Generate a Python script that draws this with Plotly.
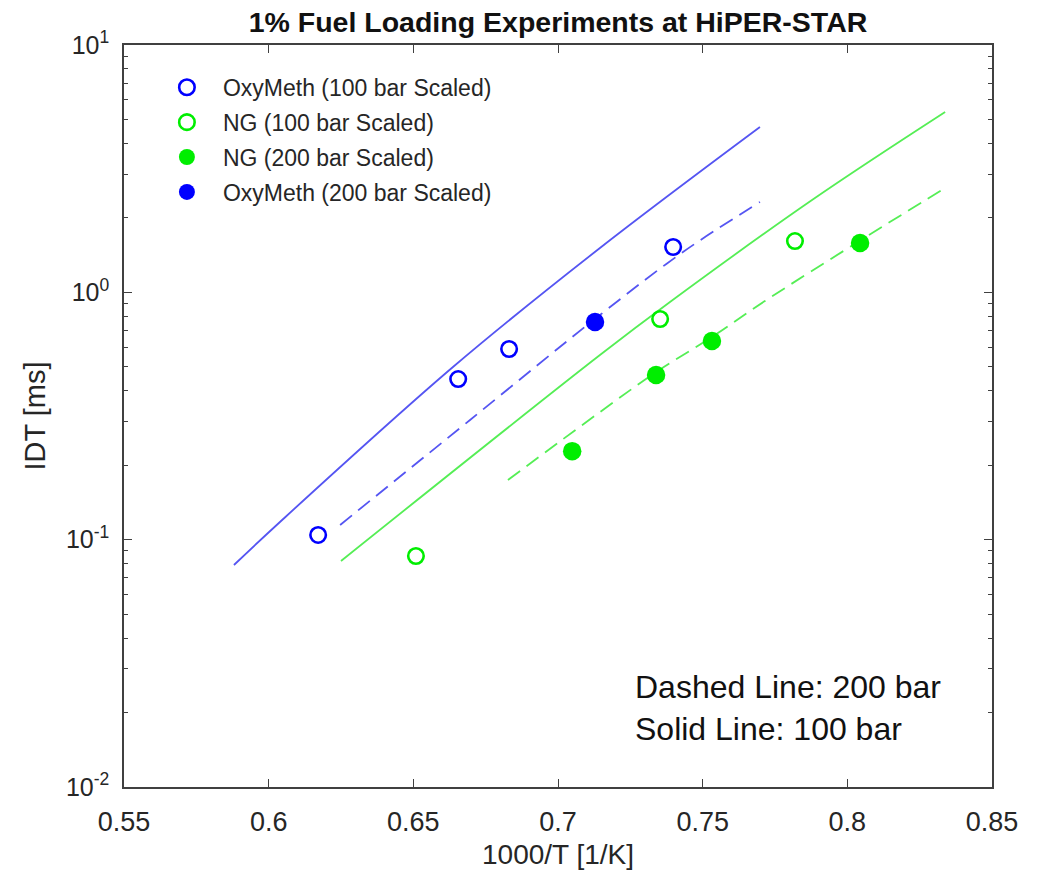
import plotly.graph_objects as go

# ---------------- data ----------------
# experiments
oxy100_x = [0.6171, 0.6655, 0.6831, 0.7398]
oxy100_y = [0.1045, 0.446, 0.590, 1.525]
ng100_x = [0.6509, 0.7353, 0.7819]
ng100_y = [0.0859, 0.780, 1.612]
ng200_x = [0.7049, 0.7339, 0.7532, 0.8044]
ng200_y = [0.228, 0.463, 0.636, 1.582]
oxy200_x = [0.7128]
oxy200_y = [0.759]

# model curves
oxy_solid_x = [0.5880, 0.6039, 0.6637, 0.7145, 0.7698]
oxy_solid_y = [0.0790, 0.1179, 0.499, 1.511, 4.66]
oxy_dash_x = [0.6247, 0.6696, 0.7145, 0.7432, 0.7698]
oxy_dash_y = [0.1147, 0.3047, 0.810, 1.456, 2.319]
ng_solid_x = [0.6250, 0.7145, 0.7387, 0.7878, 0.8338]
ng_solid_y = [0.0820, 0.558, 0.914, 2.362, 5.36]
ng_dash_x = [0.6827, 0.7145, 0.7339, 0.7532, 0.7715, 0.8047, 0.8338]
ng_dash_y = [0.1743, 0.328, 0.476, 0.660, 0.922, 1.627, 2.642]

x_tickvals = [0.55, 0.6, 0.65, 0.7, 0.75, 0.8, 0.85]
x_ticktext = ["0.55", "0.6", "0.65", "0.7", "0.75", "0.8", "0.85"]
y_tickvals = [0.01, 0.1, 1, 10]
y_ticktext = ["10<sup>-2</sup>", "10<sup>-1</sup>", "10<sup>0</sup>", "10<sup>1</sup>"]
y_minor = [m * d for d in (0.01, 0.1, 1) for m in range(2, 10)]

FONT = "Liberation Sans, Arial, Helvetica, sans-serif"
TXT = "#262626"
BLUE_M = "#0000ff"
GREEN_M = "#00ee00"
BLUE_L = "#5555f2"
GREEN_L = "#55ee55"

fig = go.Figure()

# lines (no legend)
fig.add_trace(go.Scatter(x=oxy_solid_x, y=oxy_solid_y, mode="lines", line=dict(color=BLUE_L, width=1.8, shape="spline"), showlegend=False))
fig.add_trace(go.Scatter(x=oxy_dash_x, y=oxy_dash_y, mode="lines", line=dict(color=BLUE_L, width=1.8, dash="15px,8px", shape="spline"), showlegend=False))
fig.add_trace(go.Scatter(x=ng_solid_x, y=ng_solid_y, mode="lines", line=dict(color=GREEN_L, width=1.8, shape="spline"), showlegend=False))
fig.add_trace(go.Scatter(x=ng_dash_x, y=ng_dash_y, mode="lines", line=dict(color=GREEN_L, width=1.8, dash="15px,8px", shape="spline"), showlegend=False))

# markers
fig.add_trace(go.Scatter(x=oxy100_x, y=oxy100_y, mode="markers", name="OxyMeth (100 bar Scaled)", legendgroup="a",
                         marker=dict(symbol="circle-open", size=15.5, color=BLUE_M, line=dict(width=2.6, color=BLUE_M))))
fig.add_trace(go.Scatter(x=ng100_x, y=ng100_y, mode="markers", name="NG (100 bar Scaled)", legendgroup="b",
                         marker=dict(symbol="circle-open", size=15.5, color=GREEN_M, line=dict(width=2.6, color=GREEN_M))))
fig.add_trace(go.Scatter(x=ng200_x, y=ng200_y, mode="markers", name="NG (200 bar Scaled)", legendgroup="c",
                         marker=dict(symbol="circle", size=18.5, color=GREEN_M, line=dict(width=0))))
fig.add_trace(go.Scatter(x=oxy200_x, y=oxy200_y, mode="markers", name="OxyMeth (200 bar Scaled)", legendgroup="d",
                         marker=dict(symbol="circle", size=18.5, color=BLUE_M, line=dict(width=0))))

axis_common = dict(
    showgrid=False, zeroline=False, showline=True, linecolor="#404040", linewidth=1.5,
    mirror="allticks", ticks="inside", ticklen=8, tickwidth=1.2, tickcolor="#404040",
)

fig.update_xaxes(
    range=[0.55, 0.85], tickmode="array", tickvals=x_tickvals, ticktext=x_ticktext,
    tickfont=dict(family=FONT, size=27, color=TXT), ticklabelstandoff=10,
    title=dict(text="1000/T [1/K]", font=dict(family=FONT, size=28, color=TXT), standoff=8),
    **axis_common,
)
fig.update_yaxes(
    type="log", range=[-2, 1], tickmode="array", tickvals=y_tickvals, ticktext=y_ticktext,
    tickfont=dict(family=FONT, size=25, color=TXT), ticklabelstandoff=8,
    minor=dict(tickmode="array", tickvals=y_minor, ticks="inside", ticklen=4, tickcolor="#404040", showgrid=False),
    title=dict(text="IDT [ms]", font=dict(family=FONT, size=29, color=TXT), standoff=12),
    **axis_common,
)

fig.update_layout(
    width=1046, height=881,
    margin=dict(l=124, r=54, t=45, b=94),
    paper_bgcolor="white", plot_bgcolor="white",
    title=dict(text="<b>1% Fuel Loading Experiments at HiPER-STAR</b>", x=0.5, xref="paper", xanchor="center",
               y=1 - 22 / 881, yref="container", yanchor="middle",
               font=dict(family=FONT, size=28.5, color="#111111")),
    legend=dict(x=0.031, y=0.972, xanchor="left", yanchor="top", bgcolor="rgba(255,255,255,0)",
                font=dict(family=FONT, size=23, color=TXT), itemwidth=62, tracegroupgap=2,
                traceorder="grouped"),
    annotations=[
        dict(text="Dashed Line: 200 bar", x=(633 - 124) / 868, y=(787 - 687) / 742, xref="paper", yref="paper",
             xanchor="left", yanchor="middle", showarrow=False, font=dict(family=FONT, size=32, color="#111111")),
        dict(text="Solid Line: 100 bar", x=(633 - 124) / 868, y=(787 - 729) / 742, xref="paper", yref="paper",
             xanchor="left", yanchor="middle", showarrow=False, font=dict(family=FONT, size=32, color="#111111")),
    ],
)

fig.write_html("out.html")
